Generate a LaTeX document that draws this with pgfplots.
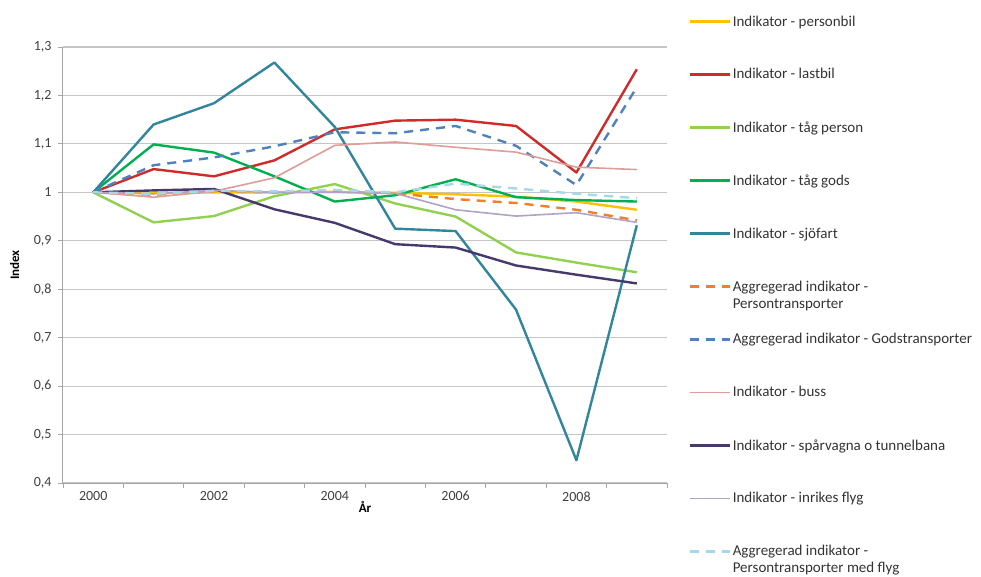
\documentclass[border=0pt]{standalone}
\usepackage{pgfplots}
\pgfplotsset{compat=1.18}
\usepackage{fontspec}
\setmainfont{Carlito}
\definecolor{cPersonbil}{HTML}{FFC000}
\definecolor{cLastbil}{HTML}{D02A2A}
\definecolor{cTagPerson}{HTML}{92D050}
\definecolor{cTagGods}{HTML}{00B050}
\definecolor{cSjofart}{HTML}{31859C}
\definecolor{cPersAgg}{HTML}{F07F2A}
\definecolor{cGodsAgg}{HTML}{4F81BD}
\definecolor{cBuss}{HTML}{DE9C9A}
\definecolor{cSparvagn}{HTML}{453A6B}
\definecolor{cInrikes}{HTML}{B3A2C7}
\definecolor{cMedFlyg}{HTML}{A6D8E8}
\definecolor{cText}{HTML}{404040}
\newcommand{\twoline}[2]{\raisebox{0pt}[\height][0pt]{\parbox[t]{240pt}{#1\\#2}}}
\begin{document}
\begin{tikzpicture}
\path[use as bounding box] (0,0) rectangle (981pt,576pt);
\begin{axis}[
  at={(63pt,93pt)}, anchor=south west,
  scale only axis, width=604pt, height=436pt,
  xmin=1999.5, xmax=2009.5, ymin=0.4, ymax=1.3,
  axis x line*=bottom, axis y line*=left,
  axis line style={color=gray!70, line width=1pt},
  xtick={1999.5,2000.5,...,2009.5}, xticklabels={},
  extra x ticks={2000,2002,2004,2006,2008},
  extra x tick labels={2000,2002,2004,2006,2008},
  extra x tick style={major tick length=0pt, grid=none},
  ytick={0.4,0.5,...,1.3},
  tick align=outside, major tick length=5pt,
  tick style={color=gray!70, line width=0.8pt},
  ymajorgrids, xmajorgrids=false,
  grid style={color=gray!45, line width=1.2pt},
  /pgf/number format/.cd, use comma, fixed, precision=1, assume math mode=true,
  /pgfplots/.cd,
  ticklabel style={font=\fontsize{14}{16}\selectfont, text=cText},
  xticklabel style={yshift=-5pt},
  yticklabel style={xshift=-3pt},
  xlabel={\textbf{År}}, ylabel={\textbf{Index}},
  label style={font=\fontsize{13}{15}\selectfont, text=black},
  xlabel style={at={(axis description cs:0.5,-0.055)}, anchor=center},
  ylabel style={at={(axis description cs:-0.08,0.5)}, anchor=center},
  legend style={at={(axis description cs:1.035,1.077)}, anchor=north west,
    draw=none, fill=none, row sep=37pt, font=\fontsize{15}{17}\selectfont,
    text=black!80, inner sep=0pt},
  legend cell align=left,
  legend image code/.code={\draw[#1] (0pt,0pt) -- (40pt,0pt);},
  every axis plot/.append style={line width=2.4pt, line join=round},
]
\addplot[cPersonbil] coordinates {(2000,1.000)(2001,0.998)(2002,1.000)(2003,1.000)(2004,1.001)(2005,0.999)(2006,0.996)(2007,0.991)(2008,0.981)(2009,0.964)};
\addlegendentry{Indikator - personbil}
\addplot[cLastbil] coordinates {(2000,1.000)(2001,1.048)(2002,1.033)(2003,1.066)(2004,1.130)(2005,1.148)(2006,1.150)(2007,1.137)(2008,1.041)(2009,1.254)};
\addlegendentry{Indikator - lastbil}
\addplot[cTagPerson] coordinates {(2000,1.000)(2001,0.938)(2002,0.951)(2003,0.992)(2004,1.017)(2005,0.977)(2006,0.950)(2007,0.876)(2008,0.855)(2009,0.835)};
\addlegendentry{Indikator - tåg person}
\addplot[cTagGods] coordinates {(2000,1.000)(2001,1.099)(2002,1.082)(2003,1.033)(2004,0.981)(2005,0.994)(2006,1.027)(2007,0.990)(2008,0.984)(2009,0.981)};
\addlegendentry{Indikator - tåg gods}
\addplot[cSjofart] coordinates {(2000,1.000)(2001,1.140)(2002,1.184)(2003,1.268)(2004,1.135)(2005,0.925)(2006,0.920)(2007,0.758)(2008,0.447)(2009,0.932)};
\addlegendentry{Indikator - sjöfart}
\addplot[cPersAgg, dash pattern=on 9pt off 7pt] coordinates {(2000,1.000)(2001,0.995)(2002,1.002)(2003,1.000)(2004,1.002)(2005,0.998)(2006,0.986)(2007,0.978)(2008,0.964)(2009,0.942)};
\addlegendentry{\twoline{Aggregerad indikator -}{Persontransporter}}
\addplot[cGodsAgg, dash pattern=on 9pt off 7pt] coordinates {(2000,1.000)(2001,1.056)(2002,1.072)(2003,1.095)(2004,1.124)(2005,1.122)(2006,1.137)(2007,1.096)(2008,1.015)(2009,1.217)};
\addlegendentry{Aggregerad indikator - Godstransporter}
\addplot[cBuss, line width=1.6pt] coordinates {(2000,1.000)(2001,0.990)(2002,1.002)(2003,1.030)(2004,1.097)(2005,1.104)(2006,1.093)(2007,1.083)(2008,1.052)(2009,1.047)};
\addlegendentry{Indikator - buss}
\addplot[cSparvagn] coordinates {(2000,1.000)(2001,1.004)(2002,1.007)(2003,0.965)(2004,0.937)(2005,0.893)(2006,0.886)(2007,0.849)(2008,0.830)(2009,0.812)};
\addlegendentry{Indikator - spårvagna o tunnelbana}
\addplot[cInrikes, line width=1.6pt] coordinates {(2000,1.000)(2001,0.997)(2002,1.004)(2003,1.000)(2004,1.000)(2005,0.998)(2006,0.964)(2007,0.951)(2008,0.958)(2009,0.938)};
\addlegendentry{Indikator - inrikes flyg}
\addplot[cMedFlyg, dash pattern=on 9pt off 7pt] coordinates {(2000,1.000)(2001,0.997)(2002,1.003)(2003,1.002)(2004,1.005)(2005,1.000)(2006,1.018)(2007,1.008)(2008,0.997)(2009,0.988)};
\addlegendentry{\twoline{Aggregerad indikator -}{Persontransporter med flyg}}
\end{axis}
\end{tikzpicture}
\end{document}
